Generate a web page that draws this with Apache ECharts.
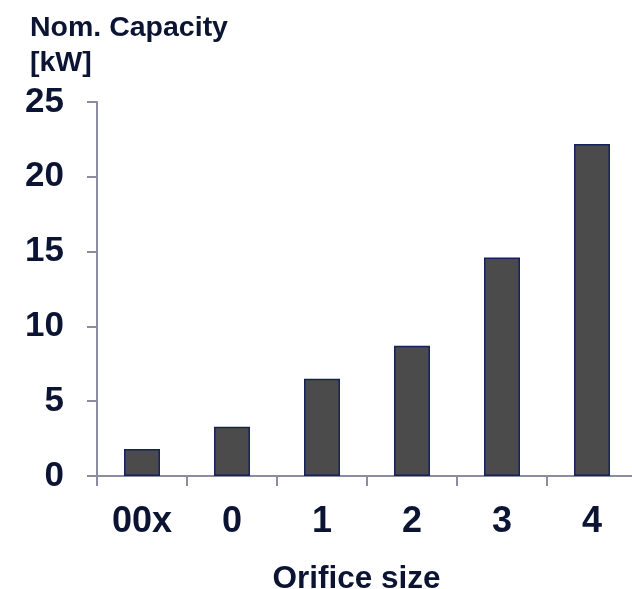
<!DOCTYPE html>
<html>
<head>
<meta charset="utf-8">
<script src="https://cdn.jsdelivr.net/npm/echarts@6/dist/echarts.min.js"></script>
<style>
  html, body { margin: 0; padding: 0; background: #ffffff; overflow: hidden; }
  #chart { width: 632px; height: 589px; }
</style>
</head>
<body>
<div id="chart"></div>
<script>
// Orifice sizes and their nominal capacity in kW
const orificeSizes = ['00x', '0', '1', '2', '3', '4'];
const nominalCapacity = [1.8, 3.3, 6.5, 8.7, 14.6, 22.2];
const yTicks = [0, 5, 10, 15, 20, 25];

const textColor = '#0c1433';
const axisColor = '#8b8ca0';
const fontFamily = '"Liberation Sans", Arial, sans-serif';

const chart = echarts.init(document.getElementById('chart'), null, { renderer: 'canvas' });

chart.setOption({
  backgroundColor: '#ffffff',
  animation: false,
  title: {
    text: 'Nom. Capacity\n[kW]',
    left: 25,
    top: 6,
    textStyle: {
      fontFamily: fontFamily,
      fontSize: 28.5,
      fontWeight: 'bold',
      color: textColor,
      lineHeight: 35
    }
  },
  grid: {
    left: 97,
    right: -5,
    top: 102,
    height: 374,
    containLabel: false,
    outerBoundsMode: 'none'
  },
  xAxis: {
    type: 'category',
    data: orificeSizes,
    name: 'Orifice size',
    nameLocation: 'middle',
    nameGap: 87,
    nameTextStyle: {
      fontFamily: fontFamily,
      fontSize: 31.5,
      fontWeight: 'bold',
      color: textColor,
      padding: [0, 21, 0, 0]
    },
    axisLine: { show: true, lineStyle: { color: axisColor, width: 2 } },
    axisTick: { show: true, length: 10, alignWithLabel: false, lineStyle: { color: axisColor, width: 2 } },
    axisLabel: {
      margin: 28,
      fontFamily: fontFamily,
      fontSize: 36,
      fontWeight: 'bold',
      color: textColor
    },
    splitLine: { show: false }
  },
  yAxis: {
    type: 'value',
    min: yTicks[0],
    max: yTicks[yTicks.length - 1],
    interval: yTicks[1] - yTicks[0],
    axisLine: { show: true, lineStyle: { color: axisColor, width: 2 } },
    axisTick: { show: true, length: 10, lineStyle: { color: axisColor, width: 2 } },
    axisLabel: {
      margin: 33,
      fontFamily: fontFamily,
      fontSize: 35,
      fontWeight: 'bold',
      color: textColor
    },
    splitLine: { show: false }
  },
  series: [{
    type: 'bar',
    data: nominalCapacity,
    barWidth: 36,
    itemStyle: {
      color: '#4b4b4b',
      borderColor: '#14215a',
      borderWidth: 1.5
    }
  }]
});
</script>
</body>
</html>
